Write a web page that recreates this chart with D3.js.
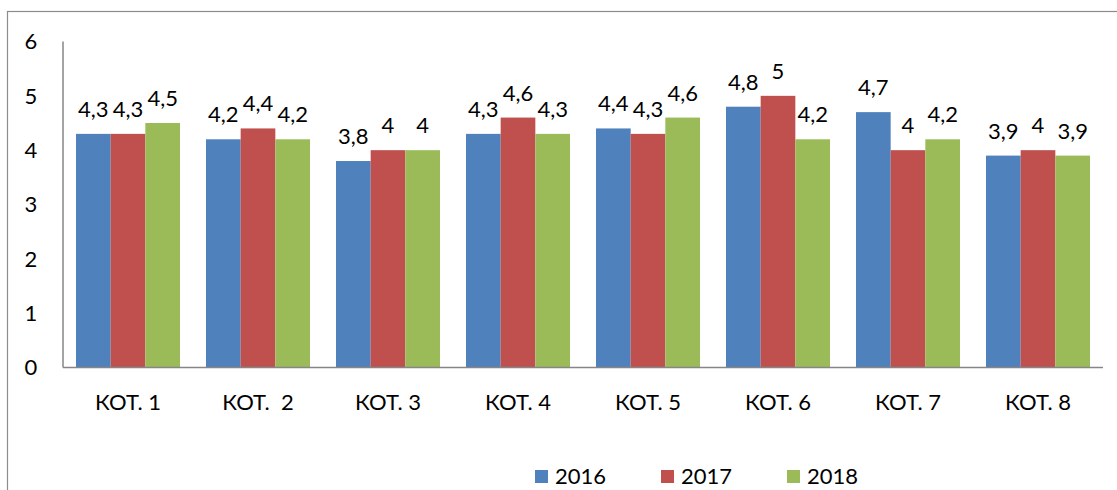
<!DOCTYPE html>
<html>
<head>
<meta charset="utf-8">
<script src="https://cdn.jsdelivr.net/npm/d3@7"></script>
<style>
  body { margin: 0; background: #fff; }
  svg text { font-family: Lato, "Open Sans", sans-serif; fill: #000; }
</style>
</head>
<body>
<div id="chart"></div>
<script>
const categories = ['КОТ. 1', 'КОТ.  2', 'КОТ. 3', 'КОТ. 4', 'КОТ. 5', 'КОТ. 6', 'КОТ. 7', 'КОТ. 8'];
const years = ['2016', '2017', '2018'];
const values2016 = [4.3, 4.2, 3.8, 4.3, 4.4, 4.8, 4.7, 3.9];
const values2017 = [4.3, 4.4, 4.0, 4.6, 4.3, 5.0, 4.0, 4.0];
const values2018 = [4.5, 4.2, 4.0, 4.3, 4.6, 4.2, 4.2, 3.9];
const yTicks = [0, 1, 2, 3, 4, 5, 6];
const colors = ['#4F81BD', '#C0504D', '#9BBB59'];

const series = [values2016, values2017, values2018];

const width = 1117, height = 490;
const plot = { left: 63, right: 1103, top: 41.5, bottom: 367.5 };
const fontSize = 22;

const svg = d3.select('#chart').append('svg')
    .attr('width', width)
    .attr('height', height);

// outer frame (clipped by the window on right and bottom)
svg.append('rect')
    .attr('x', 7.5).attr('y', 11.5)
    .attr('width', 1200).attr('height', 600)
    .attr('fill', 'none')
    .attr('stroke', '#8c8c8c')
    .attr('stroke-width', 1.2);

const x0 = d3.scaleBand()
    .domain(categories)
    .range([plot.left, plot.right])
    .paddingInner(0.2)
    .paddingOuter(0.1);

const x1 = d3.scaleBand()
    .domain(years)
    .range([0, x0.bandwidth()]);

const y = d3.scaleLinear()
    .domain([0, 6])
    .range([plot.bottom, plot.top]);

// bars
const groups = svg.selectAll('.group')
    .data(categories)
    .enter()
    .append('g')
    .attr('class', 'group')
    .attr('transform', d => `translate(${x0(d)},0)`);

groups.each(function(cat, ci) {
    const g = d3.select(this);
    years.forEach((yr, si) => {
        const v = series[si][ci];
        g.append('rect')
            .attr('x', x1(yr))
            .attr('y', y(v))
            .attr('width', x1.bandwidth())
            .attr('height', y(0) - y(v))
            .attr('fill', colors[si]);
        g.append('text')
            .attr('x', x1(yr) + x1.bandwidth() / 2)
            .attr('y', y(v) - 17)
            .attr('text-anchor', 'middle')
            .attr('font-size', fontSize)
            .text(String(v).replace('.', ','));
    });
});

// y axis
svg.append('line')
    .attr('x1', plot.left).attr('x2', plot.left)
    .attr('y1', plot.top).attr('y2', plot.bottom)
    .attr('stroke', '#868686')
    .attr('stroke-width', 1.5);

svg.selectAll('.ytick')
    .data(yTicks)
    .enter()
    .append('text')
    .attr('class', 'ytick')
    .attr('x', 31)
    .attr('y', d => y(d))
    .attr('dy', '0.35em')
    .attr('text-anchor', 'middle')
    .attr('font-size', fontSize)
    .text(d => d);

// x axis
svg.append('line')
    .attr('x1', plot.left).attr('x2', plot.right)
    .attr('y1', plot.bottom).attr('y2', plot.bottom)
    .attr('stroke', '#868686')
    .attr('stroke-width', 1.5);

svg.selectAll('.xlabel')
    .data(categories)
    .enter()
    .append('text')
    .attr('class', 'xlabel')
    .attr('x', d => x0(d) + x0.bandwidth() / 2)
    .attr('y', 410)
    .attr('text-anchor', 'middle')
    .attr('font-size', fontSize)
    .style('white-space', 'pre')
    .text(d => d);

// legend
const legend = svg.selectAll('.legend')
    .data(years)
    .enter()
    .append('g')
    .attr('class', 'legend')
    .attr('transform', (d, i) => `translate(${535 + i * 126},470)`);

legend.append('rect')
    .attr('width', 13).attr('height', 13)
    .attr('fill', (d, i) => colors[i]);

legend.append('text')
    .attr('x', 20)
    .attr('y', 14)
    .attr('font-size', fontSize)
    .text(d => d);
</script>
</body>
</html>
